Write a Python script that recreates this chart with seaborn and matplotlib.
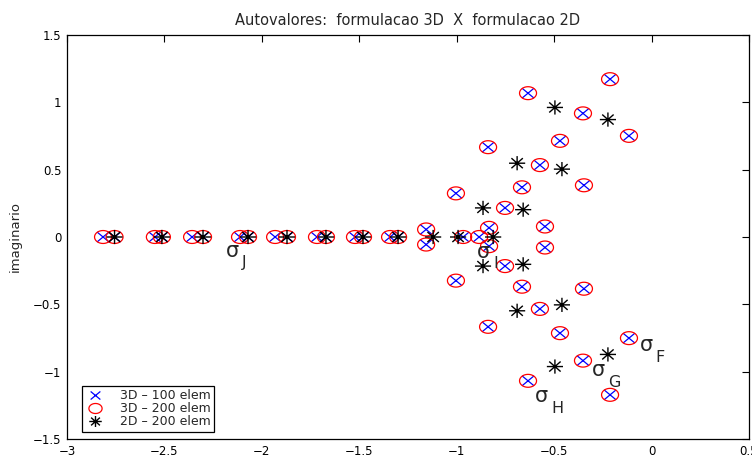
import numpy as np
import pandas as pd
import matplotlib
matplotlib.use("Agg")
import matplotlib.pyplot as plt
import seaborn as sns
from matplotlib.path import Path
from matplotlib.markers import MarkerStyle
from matplotlib.lines import Line2D

# ---------------- data ----------------
title = "Autovalores:  formulacao 3D  X  formulacao 2D"
ylabel = "imaginario"
series_names = ["3D \u2013 100 elem", "3D \u2013 200 elem", "2D \u2013 200 elem"]

# 3D eigenvalues (100 and 200 elements coincide)
real_3d_axis = [-2.815, -2.756, -2.549, -2.513, -2.358, -2.302, -2.112, -2.071,
                -1.932, -1.871, -1.717, -1.671, -1.522, -1.481, -1.342, -1.301,
                -0.967, -0.885]
real_3d_cplx = [-1.157, -0.834, -0.213, -0.634, -0.352, -0.470, -0.116, -0.839,
                -0.573, -0.347, -0.665, -1.004, -0.752, -0.547]
imag_3d_up = [0.056, 0.068, 1.172, 1.068, 0.918, 0.714, 0.751, 0.667,
              0.534, 0.384, 0.369, 0.324, 0.216, 0.078]
imag_3d_dn = [-0.056, -0.068, -1.172, -1.068, -0.918, -0.714, -0.751, -0.667,
              -0.534, -0.384, -0.369, -0.324, -0.216, -0.078]

# 2D eigenvalues
real_2d_axis = [-2.756, -2.513, -2.302, -2.071, -1.871, -1.671, -1.481, -1.301,
                -1.121, -0.993, -0.813]
real_2d_cplx = [-0.496, -0.224, -0.690, -0.460, -0.865, -0.659]
imag_2d_up = [0.962, 0.872, 0.548, 0.504, 0.216, 0.203]
imag_2d_dn = [-0.962, -0.872, -0.548, -0.504, -0.216, -0.203]

labels_text = ["J", "I", "H", "G", "F"]
labels_x = [-2.184, -0.896, -0.598, -0.306, -0.060]
labels_y = [-0.149, -0.156, -1.227, -1.033, -0.848]

xticks = [-3, -2.5, -2, -1.5, -1, -0.5, 0, 0.5]
yticks = [-1.5, -1, -0.5, 0, 0.5, 1, 1.5]

# ---------------- frames ----------------
df3d = pd.DataFrame({
    "re": real_3d_axis + real_3d_cplx + real_3d_cplx,
    "im": [0.0] * len(real_3d_axis) + imag_3d_up + imag_3d_dn,
})
df2d = pd.DataFrame({
    "re": real_2d_axis + real_2d_cplx + real_2d_cplx,
    "im": [0.0] * len(real_2d_axis) + imag_2d_up + imag_2d_dn,
})

# ---------------- style ----------------
sns.set_theme(style="white")
plt.rcParams["font.family"] = ["DejaVu Sans"]

# markers slightly wider than tall (as in the reference)
def ellipse_path(ax_ratio):
    t = np.linspace(0, 2 * np.pi, 49)
    v = np.column_stack([np.cos(t), ax_ratio * np.sin(t)])
    return Path(v, closed=True)

def x_path(r):
    v = [(-1, -r), (1, r), (-1, r), (1, -r)]
    c = [Path.MOVETO, Path.LINETO, Path.MOVETO, Path.LINETO]
    return Path(v, c)

def star_path(r):
    d = 0.7071
    v = [(-1, 0), (1, 0), (0, -r), (0, r), (-d, -d * r), (d, d * r), (-d, d * r), (d, -d * r)]
    c = [Path.MOVETO, Path.LINETO] * 4
    return Path(v, c)

m_circ = MarkerStyle(ellipse_path(0.76))
m_x = MarkerStyle(x_path(0.83))
m_star = MarkerStyle(star_path(0.88))

fig = plt.figure(figsize=(7.52, 4.57), dpi=100)
ax = fig.add_axes([67 / 752, 18 / 457, 682 / 752, 404 / 457])

sns.scatterplot(data=df3d, x="re", y="im", ax=ax, marker=m_x, s=76,
                color="#0000ff", facecolor="none", edgecolor="#0000ff",
                linewidth=0.9, zorder=3)
sns.scatterplot(data=df3d, x="re", y="im", ax=ax, marker=m_circ, s=150,
                color="#ff0000", facecolor="none", edgecolor="#ff0000",
                linewidth=0.9, zorder=3)
sns.scatterplot(data=df2d, x="re", y="im", ax=ax, marker=m_star, s=135,
                color="black", facecolor="none", edgecolor="black",
                linewidth=1.0, zorder=4)

ax.set_xlim(-3, 0.5)
ax.set_ylim(-1.5, 1.5)
ax.set_xticks(xticks)
ax.set_yticks(yticks)
ax.set_xticklabels([("%g" % v).replace("-", "\u2212") for v in xticks])
ax.set_yticklabels([("%g" % v).replace("-", "\u2212") for v in yticks])
ax.tick_params(direction="in", length=5, width=0.8, top=True, right=True,
               labelsize=8.5, pad=4, colors="black")
for s in ax.spines.values():
    s.set_visible(True)
    s.set_color("black")
    s.set_linewidth(0.9)
ax.set_xlabel("")
ax.set_ylabel(ylabel, fontsize=9.5, labelpad=8)
ax.set_title(title, fontsize=10.5, pad=7)

# sigma annotations
for lt, lx, ly in zip(labels_text, labels_x, labels_y):
    ax.text(lx, ly, "\u03c3", fontsize=15, ha="left", va="baseline", zorder=6)
    ax.annotate(lt, xy=(lx, ly), xytext=(11.5, -7.5), textcoords="offset points",
                fontsize=11.5, ha="left", va="baseline", zorder=6)

handles = [
    Line2D([], [], linestyle="none", marker=m_x, markersize=7,
           markeredgecolor="#0000ff", markerfacecolor="none", markeredgewidth=0.9),
    Line2D([], [], linestyle="none", marker=m_circ, markersize=9.5,
           markeredgecolor="#ff0000", markerfacecolor="none", markeredgewidth=0.9),
    Line2D([], [], linestyle="none", marker=m_star, markersize=9,
           markeredgecolor="black", markerfacecolor="none", markeredgewidth=1.0),
]
leg = ax.legend(handles, series_names, loc="lower left",
                bbox_to_anchor=(0.022, 0.017), borderaxespad=0,
                fontsize=9, frameon=True, fancybox=False, framealpha=1,
                edgecolor="black", handlelength=1.4, handletextpad=1.3,
                labelspacing=0.0, borderpad=0.3)
leg.get_frame().set_linewidth(0.9)

fig.savefig("out.png", dpi=100)
